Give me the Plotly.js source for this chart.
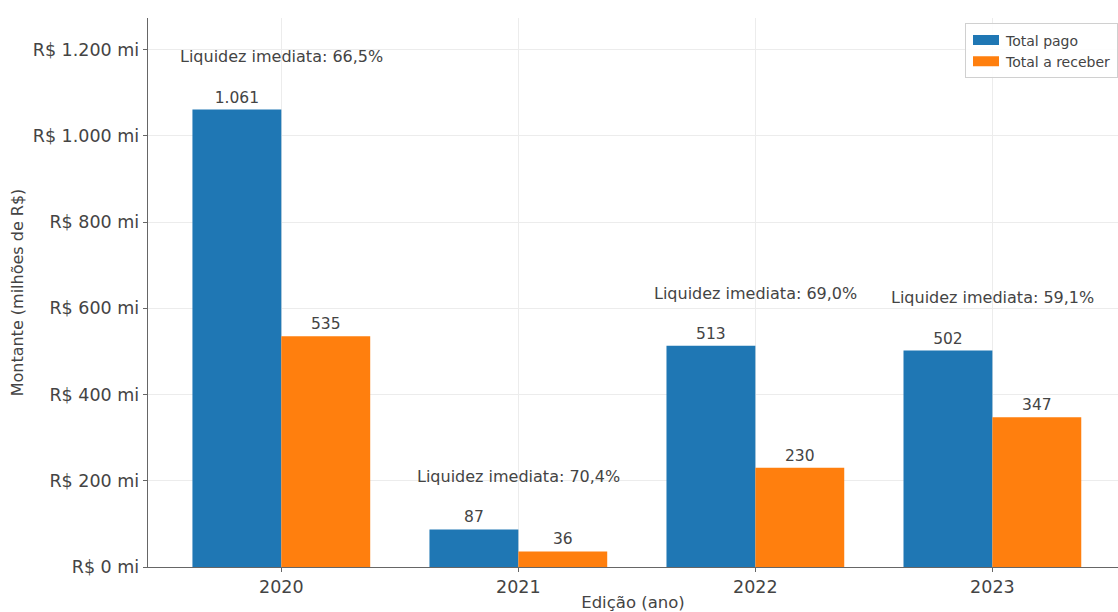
<!DOCTYPE html>
<html>
<head>
<meta charset="utf-8">
<script src="https://cdn.plot.ly/plotly-3.0.1.min.js"></script>
<style>html,body{margin:0;padding:0;background:#fff}#chart{width:1118px;height:612px}</style>
</head>
<body>
<div id="chart"></div>
<script>
const years = ["2020", "2021", "2022", "2023"];
const totalPago = [1061, 87, 513, 502];
const totalReceber = [535, 36, 230, 347];
const liquidez = ["66,5%", "70,4%", "69,0%", "59,1%"];
const yTickVals = [0, 200, 400, 600, 800, 1000, 1200];
const yTickText = ["R$ 0 mi", "R$ 200 mi", "R$ 400 mi", "R$ 600 mi", "R$ 800 mi", "R$ 1.000 mi", "R$ 1.200 mi"];

const fmt = v => v.toLocaleString("pt-BR");
const font = "DejaVu Sans, sans-serif";

const traces = [
  {type: "bar", name: "Total pago", x: years, y: totalPago,
   marker: {color: "#1f77b4"}, text: totalPago.map(fmt), textposition: "outside",
   textfont: {family: font, size: 15.5, color: "#444"}, cliponaxis: false, hoverinfo: "x+y"},
  {type: "bar", name: "Total a receber", x: years, y: totalReceber,
   marker: {color: "#ff7f0e"}, text: totalReceber.map(fmt), textposition: "outside",
   textfont: {family: font, size: 15.5, color: "#444"}, cliponaxis: false, hoverinfo: "x+y"}
];

const annotations = years.map((yr, i) => ({
  x: i, y: Math.max(totalPago[i], totalReceber[i]) + 122, xref: "x", yref: "y",
  text: "Liquidez imediata: " + liquidez[i], showarrow: false,
  font: {family: font, size: 16, color: "#444"}, xanchor: "center", yanchor: "middle"
}));

const maxY = Math.max(...totalPago, ...totalReceber) * 1.2;

const layout = {
  width: 1118, height: 612,
  margin: {l: 148, r: 0, t: 18, b: 45, autoexpand: false},
  paper_bgcolor: "#fff", plot_bgcolor: "#fff",
  font: {family: font, color: "#444"},
  barmode: "group", bargap: 0.25, bargroupgap: 0,
  showlegend: true,
  legend: {x: 1, xanchor: "right", y: 0.99, yanchor: "top",
           bgcolor: "rgba(255,255,255,0.9)", bordercolor: "#d0d0d0", borderwidth: 1,
           font: {family: font, size: 14, color: "#444"}, tracegroupgap: 0, itemwidth: 30},
  xaxis: {type: "category", range: [-0.5625, 3.53], showgrid: true, gridcolor: "#ececec", gridwidth: 1,
          showline: true, linecolor: "#666", linewidth: 1.3, ticks: "outside", ticklen: 4, tickcolor: "#666",
          tickfont: {family: font, size: 17.5, color: "#444"},
          title: {text: "Edição (ano)", font: {family: font, size: 16.5, color: "#444"}, standoff: 5},
          zeroline: false, fixedrange: true},
  yaxis: {range: [0, maxY], tickvals: yTickVals, ticktext: yTickText, showgrid: true, gridcolor: "#ececec", gridwidth: 1,
          showline: true, linecolor: "#666", linewidth: 1.3, ticks: "outside", ticklen: 4, tickcolor: "#666",
          tickfont: {family: font, size: 17.5, color: "#444"},
          title: {text: "Montante (milhões de R$)", font: {family: font, size: 16, color: "#444"}, standoff: 5},
          zeroline: false, fixedrange: true},
  annotations: annotations
};

Plotly.newPlot("chart", traces, layout, {displayModeBar: false, staticPlot: true}).then(gd => {
  gd.querySelectorAll(".legend .legendpoints path").forEach(p => {
    p.setAttribute("d", "M13,5H-13V-5H13Z");
  });
});
</script>
</body>
</html>
